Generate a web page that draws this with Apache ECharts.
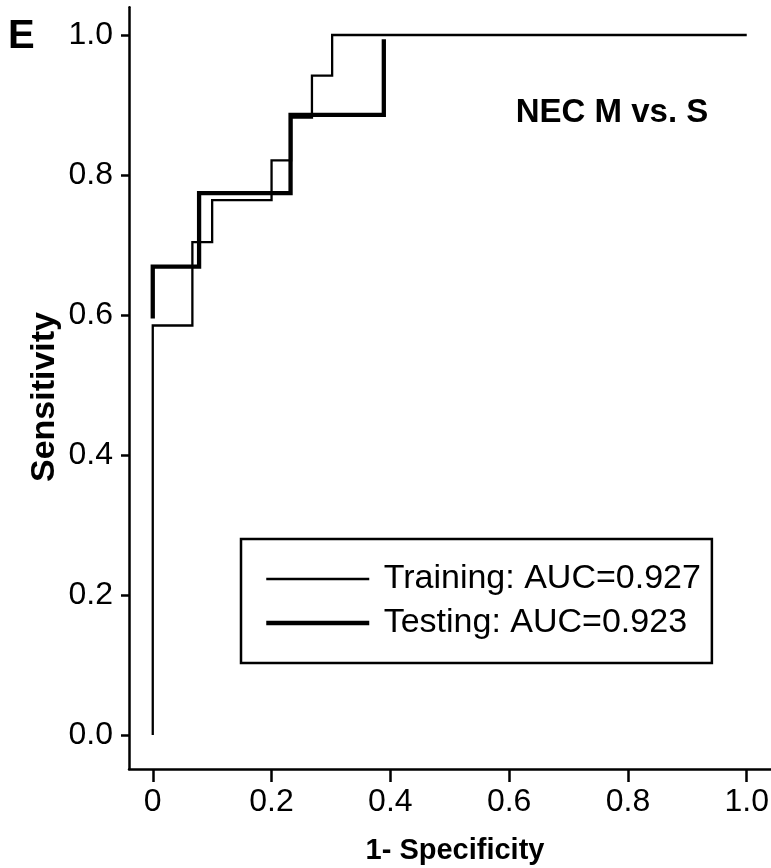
<!DOCTYPE html>
<html>
<head>
<meta charset="utf-8">
<script src="https://cdn.jsdelivr.net/npm/echarts@6/dist/echarts.min.js"></script>
<style>
html,body{margin:0;padding:0;background:#fff;}
#chart{width:771px;height:868px;}
</style>
</head>
<body>
<div id="chart"></div>
<script>
// ROC curve corner points (1-specificity, sensitivity), drawn as step lines
var trainFpr = [0, 0, 0.0667, 0.1, 0.2, 0.233, 0.268, 0.302, 1.0];
var trainTpr = [0, 0.585, 0.704, 0.764, 0.821, 0.882, 0.942, 1.0, 1.0];
var testFpr = [0, 0, 0.078, 0.232, 0.389];
var testTpr = [0.595, 0.669, 0.774, 0.886, 0.994];
var trainName = 'Training: AUC=0.927';
var testName = 'Testing: AUC=0.923';
var xTicks = [0, 0.2, 0.4, 0.6, 0.8, 1.0];
var yTicks = [0, 0.2, 0.4, 0.6, 0.8, 1.0];
var panelLabel = 'E';
var panelTitle = 'NEC M vs. S';
var xTitle = '1- Specificity';
var yTitle = 'Sensitivity';

function pairs(xs, ys) { return xs.map(function (x, i) { return [x, ys[i]]; }); }

var FONT = "'Liberation Sans', Arial, Helvetica, sans-serif";
var chart = echarts.init(document.getElementById('chart'), null, {renderer: 'canvas'});
chart.setOption({
  backgroundColor: '#fff',
  animation: false,
  grid: {left: 129, top: 7.3, width: 641.5, height: 761.7, containLabel: false, outerBoundsMode: 'none'},
  xAxis: {
    type: 'value', min: -0.04, max: 1.04,
    axisLine: {show: true, onZero: false, lineStyle: {color: '#000', width: 2.5}},
    axisTick: {show: true, customValues: xTicks, length: 13, lineStyle: {color: '#000', width: 2.5}},
    axisLabel: {customValues: xTicks, margin: 17, color: '#000', fontSize: 32, fontFamily: FONT,
      formatter: function (v) { return v === 0 ? '0' : v.toFixed(1); }},
    splitLine: {show: false}
  },
  yAxis: {
    type: 'value', min: -0.0486, max: 1.0396,
    axisLine: {show: true, onZero: false, lineStyle: {color: '#000', width: 2.5}},
    axisTick: {show: true, customValues: yTicks, length: 8, lineStyle: {color: '#000', width: 2.5}},
    axisLabel: {customValues: yTicks, margin: 16, color: '#000', fontSize: 32, fontFamily: FONT,
      formatter: function (v) { return v.toFixed(1); }},
    splitLine: {show: false}
  },
  legend: {
    orient: 'vertical', left: 241, top: 539,
    padding: [23, 11, 23, 23],
    itemWidth: 103, itemHeight: 14, itemGap: 10,
    borderColor: '#000', borderWidth: 2.5, borderRadius: 0,
    backgroundColor: '#fff',
    itemStyle: {opacity: 0},
    textStyle: {fontSize: 34, lineHeight: 34, fontFamily: FONT, color: '#000'},
    formatter: function (n) { return ' ' + n; },
    data: [
      {name: trainName, lineStyle: {color: '#000', width: 2.3}},
      {name: testName, lineStyle: {color: '#000', width: 4.5}}
    ]
  },
  series: [
    {name: trainName, type: 'line', step: 'end', symbol: 'none', data: pairs(trainFpr, trainTpr),
      lineStyle: {color: '#000', width: 2.3, cap: 'butt', join: 'miter'}, itemStyle: {color: '#000'}, z: 3},
    {name: testName, type: 'line', step: 'end', symbol: 'none', data: pairs(testFpr, testTpr),
      lineStyle: {color: '#000', width: 4.3, cap: 'butt', join: 'miter'}, itemStyle: {color: '#000'}, z: 4}
  ],
  graphic: [
    {type: 'text', x: 8, y: 37, style: {text: panelLabel, fill: '#000', fontSize: 40, fontWeight: 'bold', fontFamily: FONT, align: 'left', verticalAlign: 'middle'}},
    {type: 'text', x: 612, y: 113, style: {text: panelTitle, fill: '#000', fontSize: 33, fontWeight: 'bold', fontFamily: FONT, align: 'center', verticalAlign: 'middle'}},
    {type: 'text', x: 45, y: 397, rotation: Math.PI / 2, style: {text: yTitle, fill: '#000', fontSize: 34, fontWeight: 'bold', fontFamily: FONT, align: 'center', verticalAlign: 'middle'}},
    {type: 'text', x: 455, y: 851, style: {text: xTitle, fill: '#000', fontSize: 29, fontWeight: 'bold', fontFamily: FONT, align: 'center', verticalAlign: 'middle'}}
  ]
});
</script>
</body>
</html>
